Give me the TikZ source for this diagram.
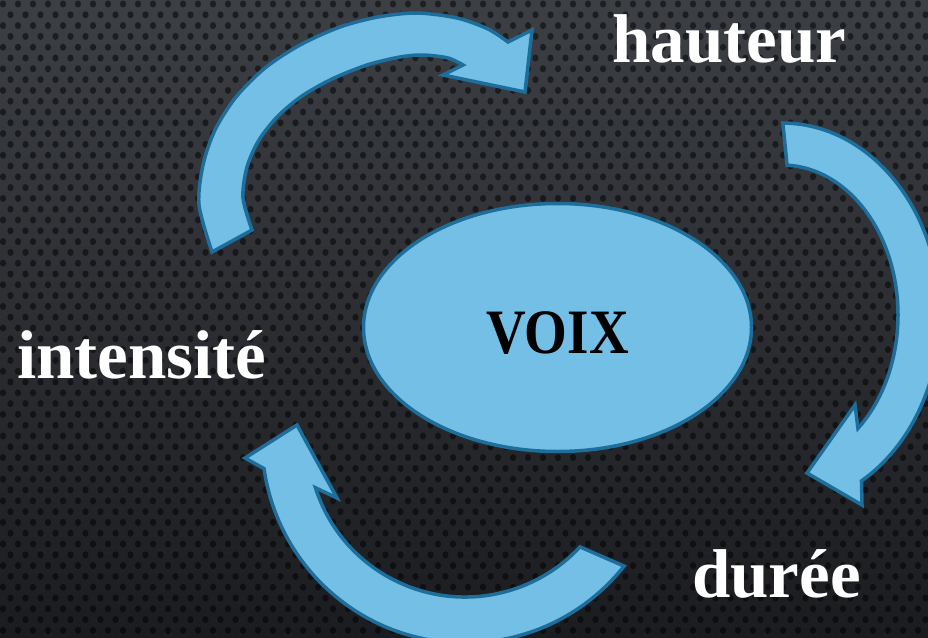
\documentclass[tikz,border=0pt]{standalone}
\usepackage{fontspec}
\setmainfont{Liberation Serif}
\usetikzlibrary{shapes.geometric}
\definecolor{bgtop}{RGB}{60,63,68}
\definecolor{bgbot}{RGB}{27,28,32}
\definecolor{arrfill}{RGB}{116,191,230}
\definecolor{arrline}{RGB}{30,110,155}
\begin{document}
\begin{tikzpicture}[x=1pt,y=1pt,
  shapestyle/.style={fill=arrfill, draw=arrline, line width=3.5pt, line join=miter},
  lbl/.style={text=white, font=\bfseries\fontsize{69}{80}\selectfont, inner sep=0pt},
]
\useasboundingbox (0,0) rectangle (928,-637);
\begin{scope}
\clip (0,0) rectangle (928,-637);
\shade[top color=bgtop, bottom color=bgbot] (0,0) rectangle (928,-637);
\foreach \r in {0,...,59}{
  \pgfmathsetmacro{\rowoff}{mod(\r,2)*7.5+3}
  \pgfmathsetmacro{\rowy}{-\r*10.8-4}
  \fill[black, opacity=0.5] \foreach \c in {0,...,62}{ ({\c*15+\rowoff},\rowy) ellipse (3.1 and 3.5) };
}
% top-left arrow
\draw[shapestyle] plot[smooth] coordinates {(212,-252) (199,-205) (203,-165) (215,-130) (236,-97) (265,-68) (300,-45) (340,-27) (378,-17) (417,-13) (457,-18) (488,-29) (508,-42)}
  -- (532,-30) -- (525,-92) -- (443,-75)
  -- plot[smooth] coordinates {(463,-65) (448,-58) (423,-55) (400,-57) (367,-65) (332,-79) (302,-96) (278,-116) (259,-140) (247,-167) (243,-198) (252,-230)}
  -- cycle;
% right arrow
\draw[shapestyle] ([shift={(782,-315)}]89.7:158 and 192) arc[start angle=89.7, end angle=-59.8, x radius=158, y radius=192]
  -- (862,-505) -- (807,-473) -- (855,-405)
  -- ([shift={(782,-315)}]-49.1:116 and 150) arc[start angle=-49.1, end angle=87.5, x radius=116, y radius=150] -- cycle;
% bottom arrow
\draw[shapestyle] ([shift={(465,-440)}]-38.4:203) arc[start angle=-38.4, end angle=-171.9, radius=203]
  -- (245,-458) -- (297,-425) -- (337,-498)
  -- ([shift={(465,-440)}]-162.3:157) arc[start angle=-162.3, end angle=-42.9, radius=157] -- cycle;
\end{scope}
\node[shapestyle, ellipse, minimum width=388pt, minimum height=248pt, inner sep=0pt] (voix) at (557.5,-327.5) {};
\node[font=\bfseries\fontsize{55}{60}\selectfont, anchor=base, inner sep=0pt] (voixtext) at (557.5,-353) {\scalebox{1}[1.15]{VOIX}};
\node[lbl, anchor=base west] (hauteur) at (612,-62) {hauteur};
\node[lbl, anchor=base west] (intensite) at (17,-378) {intensité};
\node[lbl, anchor=base west] (duree) at (692,-597) {durée};
\end{tikzpicture}
\end{document}
